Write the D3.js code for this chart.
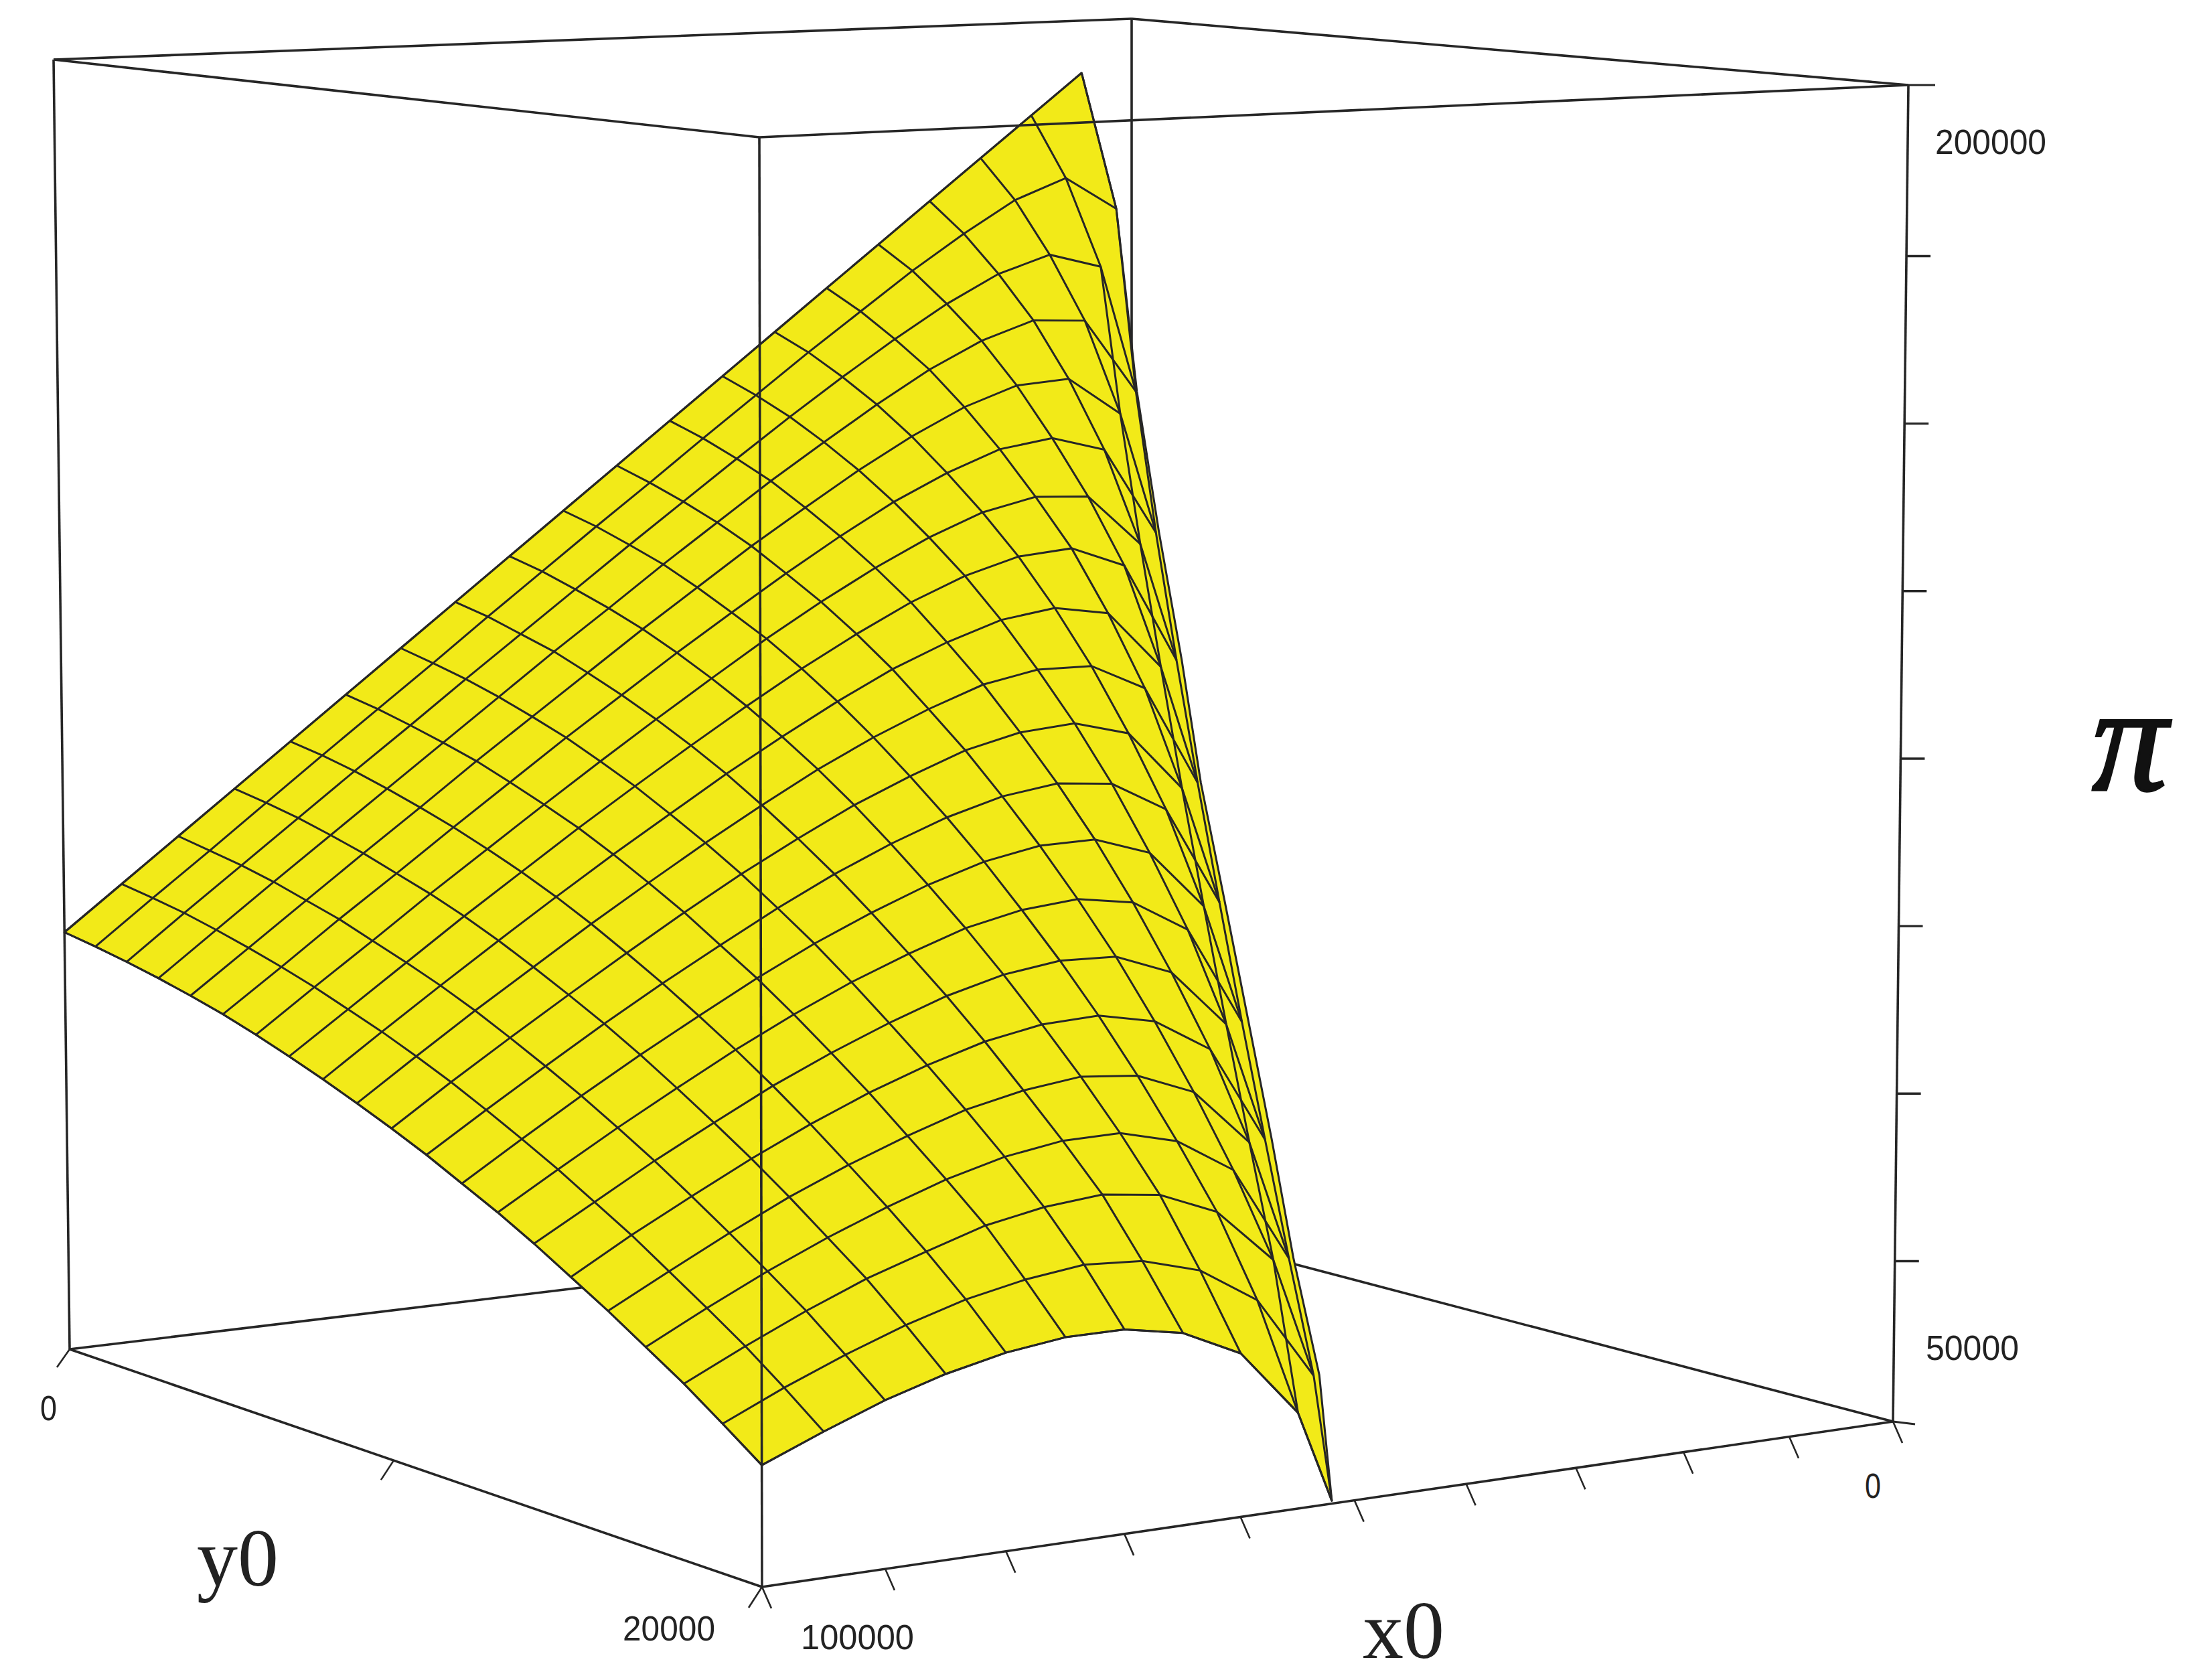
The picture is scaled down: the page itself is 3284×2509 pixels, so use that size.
<!DOCTYPE html>
<html><head><meta charset="utf-8"><script src="https://cdn.jsdelivr.net/npm/d3@7"></script>
<style>html,body{margin:0;padding:0;background:#fff}svg{display:block}text{fill:#222}</style></head><body>
<script>
const x0Values=[100000,95000,90000,85000,80000,75000,70000,65000,60000,55000,50000,45000,40000,35000,30000,25000,20000,15000,10000,5000];
const y0Values=[0,1000,2000,3000,4000,5000,6000,7000,8000,9000,10000,11000,12000,13000,14000,15000,16000,17000,18000,19000,20000];
const piY00=[98500,103500,108500,113500,118500,123500,128500,133500,138500,143500,148500,153500,158500,163500,168500,173500,178500,183500,188500,193500];
const piY01=[97800,102800,107700,112700,117700,122600,127500,132500,137400,142300,147100,152000,156800,161600,166200,170800,175000,178800,181200,177100];
const piY02=[97000,102000,106900,111800,116700,121500,126400,131200,136000,140800,145500,150200,154800,159200,163400,167300,170600,172600,170800];
const piY03=[96100,101000,105900,110700,115500,120300,125100,129900,134500,139200,143700,148200,152400,156500,160300,163400,165500,165100,156100];
const piY04=[95100,99900,104700,109500,114200,119000,123600,128200,132800,137200,141600,145700,149700,153300,156400,158600,159000,154400];
const piY05=[94000,98700,103500,108100,112800,117400,122000,126400,130800,135000,139100,143000,146600,149600,152000,152900,151100,140700];
const piY06=[92700,97400,102000,106700,111200,115700,120100,124400,128600,132700,136500,140000,143100,145600,147000,146600,140500];
const piY07=[91300,95900,100500,105100,109500,113900,118100,122200,126200,130000,133500,136700,139300,141100,141600,139100,127400];
const piY08=[89800,94400,98900,103300,107600,111800,115800,119800,123500,127000,130200,132800,134900,135800,134700,127900];
const piY09=[88200,92700,97100,101300,105500,109500,113400,117100,120600,123700,126400,128700,129900,129800,126700,115100];
const piY10=[86500,90900,95100,99200,103200,107100,110800,114200,117400,120100,122500,124000,124500,122800,115900];
const piY11=[84700,88900,93000,97000,100800,104400,107900,111100,113900,116300,118100,119000,118400,114900,103600];
const piY12=[82700,86800,90800,94600,98200,101700,104900,107700,110200,112200,113400,113500,111400,104700];
const piY13=[80700,84600,88400,92000,95500,98700,101600,104100,106300,107700,108300,107300,103600,92500];
const piY14=[78500,82200,85900,89300,92600,95500,98100,100400,102100,103000,102800,100400,93900];
const piY15=[76100,79800,83200,86500,89500,92200,94500,96400,97600,97900,96600,92800,82000];
const piY16=[73700,77100,80400,83500,86200,88600,90700,92100,92900,92300,89800,83500];
const piY17=[71100,74400,77500,80300,82800,85000,86700,87700,87800,86200,82300,71800];
const piY18=[68500,71600,74500,77100,79200,81200,82400,83000,82200,79600,73600];
const piY19=[65600,68500,71100,73400,75300,76600,77400,77000,75200,71200,62200];
const piY20=[62600,65200,67600,69500,70900,71700,71700,70500,67500,60300];
const rows=[piY00,piY01,piY02,piY03,piY04,piY05,piY06,piY07,piY08,piY09,piY10,piY11,piY12,piY13,piY14,piY15,piY16,piY17,piY18,piY19,piY20];
// outer rim of the surface, from apex to tip
const rimX0=[5000,5000,9900,14700,19500,24700,29500,34400,39400,44600,49500,52000];
const rimY0=[0,1000,3000,5000,7000,9000,11000,13000,15000,17000,19000,20000];
const rimPi=[193500,177100,156100,140700,127400,115100,103600,92500,82000,71800,62200,50300];
const piDomain=[50000,200000];
const piTicks=[68000,86800,105600,124400,143200,162000,180800];
const x0Ticks=[100000,90000,80000,70000,60000,50000,40000,30000,20000,10000,0];
const W=3284,H=2509;
const svg=d3.select('body').append('svg').attr('width',W).attr('height',H);
const sx=d3.scaleLinear([100000,0],[0,1]),sy=d3.scaleLinear([0,20000],[0,1]),sz=d3.scaleLinear(piDomain,[0,1]);
function homography(p0,p1,p2,p3){const dx1=p1[0]-p2[0],dx2=p3[0]-p2[0],sxx=p0[0]-p1[0]+p2[0]-p3[0],dy1=p1[1]-p2[1],dy2=p3[1]-p2[1],syy=p0[1]-p1[1]+p2[1]-p3[1];
 const den=dx1*dy2-dx2*dy1,g=(sxx*dy2-dx2*syy)/den,h=(dx1*syy-sxx*dy1)/den;
 const a=p1[0]-p0[0]+g*p1[0],b=p3[0]-p0[0]+h*p3[0],c=p0[0],d=p1[1]-p0[1]+g*p1[1],e=p3[1]-p0[1]+h*p3[1],f=p0[1];
 return (u,v)=>{const w=g*u+h*v+1;return[(a*u+b*v+c)/w,(d*u+e*v+f)/w];};}
const A=[104,2015],B=[1138,2370],C=[2827,2123],D=[1690,1824],At=[80,89],Bt=[1134,205],Ct=[2850,127],Dt=[1690,28];
const Hb=homography(A,D,C,B),Ht=homography(At,Dt,Ct,Bt);
function P(x0,y0,pi){const u=sx(x0),v=sy(y0),z=sz(pi),b=Hb(u,v),t=Ht(u,v);return[b[0]+(t[0]-b[0])*z,b[1]+(t[1]-b[1])*z];}
const line=d3.line();
const ink='#262626';
function seg(a,b,w=3.6,c=ink){svg.append('path').attr('d',line([a,b])).attr('fill','none').attr('stroke',c).attr('stroke-width',w);}
seg(A,D);seg(C,D);seg(D,Dt);
const nodes=rows.map((r,i)=>r.map((pi,j)=>P(x0Values[j],y0Values[i],pi)));
const rim=rimX0.map((x,k)=>P(x,rimY0[k],rimPi[k]));
const outline=[];
nodes.forEach(r=>outline.push(r[0]));
nodes[20].slice(1).forEach(p=>outline.push(p));
rim.slice().reverse().forEach(p=>outline.push(p));
nodes[0].slice().reverse().slice(1).forEach(p=>outline.push(p));
svg.append('path').attr('d',line(outline)+'Z').attr('fill','#f2ea18').attr('stroke',ink).attr('stroke-width',3).attr('stroke-linejoin','round');
const g=svg.append('g').attr('fill','none').attr('stroke',ink).attr('stroke-width',3);
nodes.forEach(r=>g.append('path').attr('d',line(r)));
x0Values.forEach((x,j)=>{const l=nodes.filter(r=>r.length>j).map(r=>r[j]);if(l.length>1)g.append('path').attr('d',line(l));});
// crowded fold lines along the silhouette: chains through the last node of each row
const odd=nodes.filter((r,i)=>i%2==1).map(r=>r[r.length-1]);
const even=nodes.filter((r,i)=>i%2==0&&i>0).map(r=>r[r.length-1]);
g.append('path').attr('d',line(odd.concat([rim[rim.length-1]])));
g.append('path').attr('d',line(even.concat([rim[rim.length-1]])));
seg(A,B);seg(B,C);seg(A,At);seg(B,Bt);seg(C,Ct);seg(At,Bt);seg(Bt,Ct);seg(At,Dt);seg(Dt,Ct);
piTicks.forEach(v=>{const p=P(0,20000,v);seg(p,[p[0]+36,p[1]],3.4);});
seg(Ct,[Ct[0]+40,Ct[1]],3);seg(C,[C[0]+33,C[1]+4],3);
x0Ticks.forEach(v=>{const p=P(v,20000,piDomain[0]);seg(p,[p[0]+14,p[1]+32],2.6);});
seg(B,[B[0]-20,B[1]+31],2.6);seg(A,[A[0]-19,A[1]+27],2.6);
{const p=P(100000,10000,piDomain[0]);seg(p,[p[0]-19,p[1]+29],2.6);}
function lab(t,x,yb,len,fs){svg.append('text').attr('x',x).attr('y',yb).attr('font-family','Liberation Sans').attr('font-size',fs).attr('textLength',len).attr('lengthAdjust','spacingAndGlyphs').text(t);}
lab('200000',2890,230,166,52);lab('50000',2876,2031,139,52);lab('0',2785,2237,24,52);lab('0',60,2121,25,52);lab('20000',930,2450,138,52);lab('100000',1196,2463,169,52);
function serif(t,x,y,fs,st){return svg.append('text').attr('x',x).attr('y',y).attr('font-family','Liberation Serif').attr('font-size',fs).attr('font-style',st||'normal').text(t);}
serif('y0',294,2368,122);serif('x0',2035,2476,122);
serif('π',3124,1180,226,'italic').style('fill','#111').attr('stroke','#111').attr('stroke-width',3.5);
</script></body></html>
